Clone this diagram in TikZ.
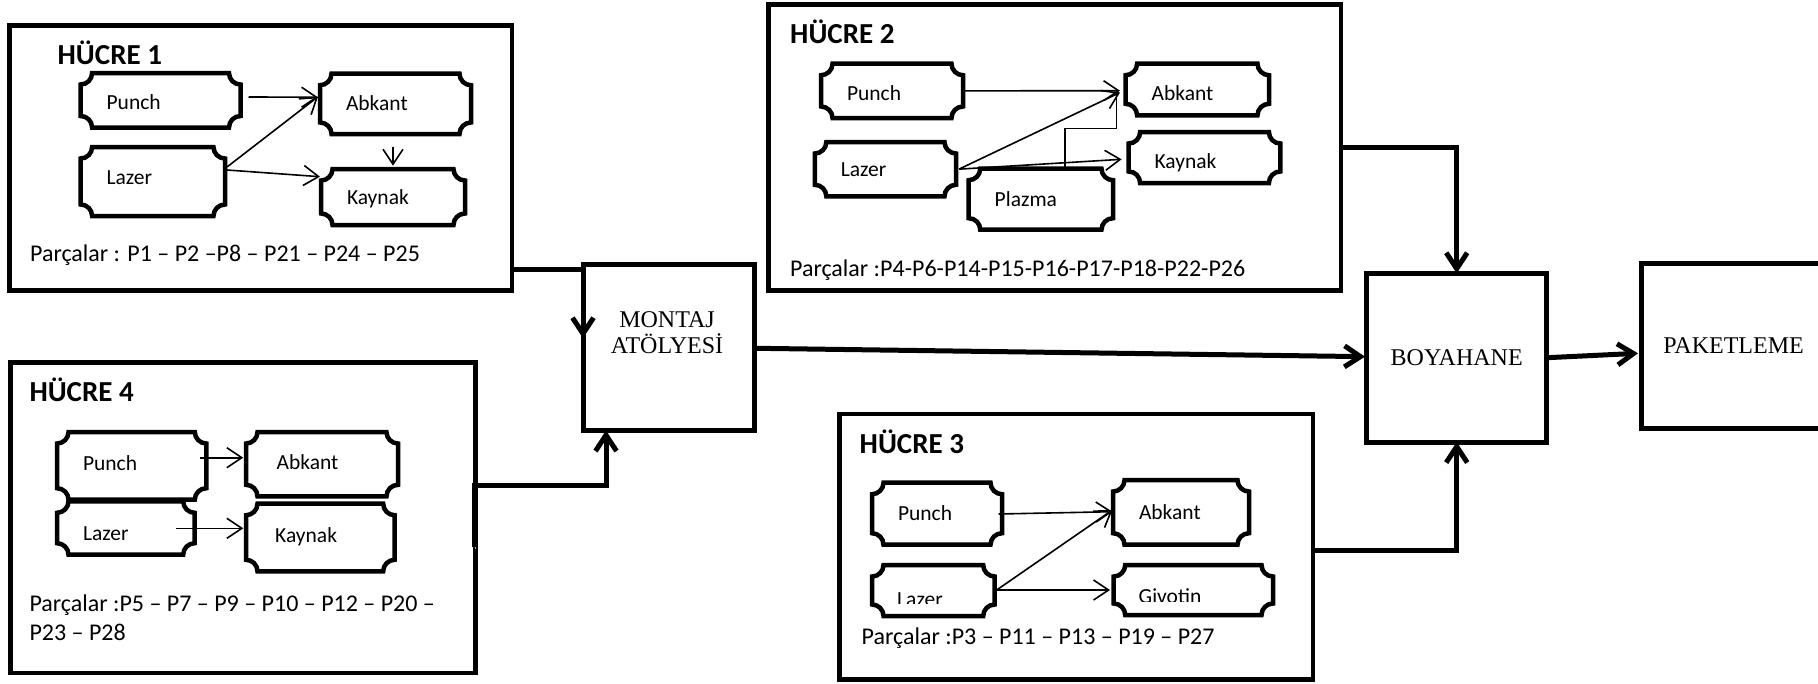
\documentclass[tikz,border=0pt]{standalone}
\usepackage{fontspec}
\setmainfont{Carlito}
\newfontfamily\serifstage{Liberation Serif}
\usetikzlibrary{arrows.meta,calc}

\newcommand\plqfont{\fontsize{21.5}{24}\selectfont}
\newcommand\partsfont{\fontsize{24}{29}\selectfont}
\newcommand\titlefont{\fontsize{29}{32}\selectfont\bfseries}
\newcommand\stagefont{\serifstage\fontsize{24}{26}\selectfont}

% radius of the concave corners of a plaque, and its Bezier handle
\def\plqr{11.5}
\def\plqk{6.35}

% outline of a plaque (rectangle with inward-rounded corners) around node #1
\newcommand\plqborder[1]{%
  \draw[plqline]
    ($(#1.north west)+(\plqr,0)$) -- ($(#1.north east)+(-\plqr,0)$)
    .. controls ($(#1.north east)+(-\plqr,\plqk)$) and ($(#1.north east)+(-\plqk,\plqr)$) .. ($(#1.north east)+(0,\plqr)$)
    -- ($(#1.south east)+(0,-\plqr)$)
    .. controls ($(#1.south east)+(-\plqk,-\plqr)$) and ($(#1.south east)+(-\plqr,-\plqk)$) .. ($(#1.south east)+(-\plqr,0)$)
    -- ($(#1.south west)+(\plqr,0)$)
    .. controls ($(#1.south west)+(\plqr,-\plqk)$) and ($(#1.south west)+(\plqk,-\plqr)$) .. ($(#1.south west)+(0,-\plqr)$)
    -- ($(#1.north west)+(0,\plqr)$)
    .. controls ($(#1.north west)+(\plqk,\plqr)$) and ($(#1.north west)+(\plqr,\plqk)$) .. ($(#1.north west)+(\plqr,0)$)
    -- cycle;}

% \plaque[options]{name}{x1}{y1}{x2}{y2}{text}: outer extent of a machine plaque
\newcommand\plaque[7][]{%
  \pgfmathsetmacro\plqw{#5-#3-4}%
  \pgfmathsetmacro\plqh{#6-#4-4}%
  \pgfmathsetmacro\plqtw{#5-#3-56}%
  \node[plq, minimum width=\plqw pt, minimum height=\plqh pt, text width=\plqtw pt, #1]
    (#2) at ({(#3+#5)/2},{(#4+#6)/2}) {#7};
  \plqborder{#2}}

% \boxnode{style}{name}{x1}{y1}{x2}{y2}{text}: rectangle given by its border lines
\newcommand\boxnode[7]{%
  \pgfmathsetmacro\bxw{#5-#3}%
  \pgfmathsetmacro\bxh{#6-#4}%
  \node[#1, minimum width=\bxw pt, minimum height=\bxh pt]
    (#2) at ({(#3+#5)/2},{(#4+#6)/2}) {#7};}

\begin{document}
\begin{tikzpicture}[x=1pt,y=-1pt,
  cellbox/.style={draw, line width=4.8pt, rectangle, outer sep=0pt, inner sep=0pt},
  stagebox/.style={draw, line width=5pt, rectangle, outer sep=0pt, inner sep=0pt, font=\stagefont},
  plq/.style={rectangle, outer sep=0pt, inner xsep=26pt, inner ysep=0pt,
    text height=14pt, text depth=0pt, align=left, font=\plqfont},
  plqtext/.style={anchor=base west, inner sep=0pt, font=\plqfont},
  plqline/.style={line width=4.5pt},
  celltitle/.style={anchor=base west, inner sep=0pt, font=\titlefont},
  parts/.style={anchor=base west, inner sep=0pt, font=\partsfont},
  link/.style={line width=1.6pt, -{Straight Barb[length=15pt,width=20pt]}},
  linkplain/.style={line width=1.6pt},
  flow/.style={line width=5pt, -{Straight Barb[length=16pt,width=21pt]},
    preaction={draw=gray!55, transform canvas={shift={(1pt,-1.8pt)}}}}
  ]
\useasboundingbox (0,0) rectangle (1818,683);

% ---------- manufacturing cells ----------
\boxnode{cellbox}{cell1}{9.3}{25.8}{512}{290.5}{}
\boxnode{cellbox}{cell2}{768.6}{4.2}{1341}{290.5}{}
\boxnode{cellbox}{cell4}{10.7}{362.5}{475.6}{673}{}
\boxnode{cellbox}{cell3}{839.6}{414}{1313}{679.5}{}

% ---------- downstream stages ----------
\boxnode{stagebox}{montaj}{583}{264}{754.7}{430.5}{}
\node[inner sep=0pt, anchor=base, align=center, text width=160pt, font=\stagefont]
  (montajtxt) at (667,327.3) {MONTAJ\\ATÖLYESİ};
\boxnode{stagebox}{boyahane}{1366.7}{273.3}{1546.7}{442}{BOYAHANE}
\boxnode{stagebox}{paket}{1641}{263.3}{1826}{428.3}{PAKETLEME}

% ---------- HÜCRE 1 ----------
\node[celltitle] (t1) at (57.5,64.5) {HÜCRE 1};
\plaque[text height=18.1pt]{p1punch}{78.6}{71}{242.5}{129.5}{Punch}
\plaque{p1abkant}{318}{71.7}{473}{136}{Abkant}
\plaque[text height=5pt]{p1lazer}{78.6}{145}{227}{218}{Lazer}
\plaque{p1kaynak}{319}{167}{467}{227}{Kaynak}
\node[parts] (parts1) at (29.9,261.7) {Parçalar : P1 – P2 –P8 – P21 – P24 – P25};
\draw[link] ([xshift=8,yshift=3.3]p1punch.east) -- ([xshift=-2,yshift=6.55]p1abkant.west);
\draw[link] ([xshift=2,yshift=14.5]p1lazer.east) -- ([xshift=-2,yshift=7.15]p1abkant.west);
\draw[link] ([xshift=2,yshift=11.5]p1lazer.east) -- ([xshift=-1,yshift=20.3]p1kaynak.west);
\draw[link] ([xshift=-2.5,yshift=-12.7]p1abkant.south) -- ([yshift=3.3]p1kaynak.north);

% ---------- HÜCRE 2 ----------
\node[celltitle] (t2) at (790,43.3) {HÜCRE 2};
\plaque[text height=18.3pt]{p2punch}{819}{61.7}{965}{120}{Punch}
\plaque[text height=21pt]{p2abkant}{1123.6}{61.7}{1271}{117.3}{Abkant}
\plaque{p2lazer}{812.8}{140}{958}{198.3}{Lazer}
\plaque[text height=21pt]{p2kaynak}{1126.6}{130}{1282.4}{185}{Kaynak}
\plaque{p2plazma}{966.7}{166.7}{1115}{231.7}{Plazma}
\node[parts] (parts2) at (789.9,276) {Parçalar :P4-P6-P14-P15-P16-P17-P18-P22-P26};
\draw[link] ([xshift=1.7]p2punch.east) -- ([xshift=-5.6,yshift=-1.2]p2abkant.west);
\draw[link] ([xshift=3]p2lazer.east) -- ([xshift=-5.6,yshift=-3]p2abkant.west);
\draw[link] ([xshift=3]p2lazer.east) -- ([xshift=-7,yshift=-1.8]p2kaynak.west);
\draw[linkplain] ([xshift=24.15]p2plazma.north) -- ++(0,-40.4) -| ([xshift=-9.1,yshift=-3.5]p2abkant.west);

% ---------- HÜCRE 4 ----------
\node[celltitle] (t4) at (29.3,401.7) {HÜCRE 4};
\plaque[text height=8.3pt]{p4punch}{55}{430}{208.3}{501.7}{Punch}
\plaque[text height=10.3pt]{p4abkant}{244}{430}{400}{498.3}{\hspace*{4.7pt}Abkant}
\plaque[text height=25.4pt]{p4lazer}{55}{499.3}{196.7}{556.7}{Lazer}
\plaque[text height=10.4pt]{p4kaynak}{244}{501.7}{396.7}{573.3}{\hspace*{3.2pt}Kaynak}
\node[parts] (parts4) at (29.3,611.7)
  {\vtop{\hbox{Parçalar :P5 – P7 – P9 – P10 – P12 – P20 –}\hbox{P23 – P28}}};
\draw[link] ([xshift=-6.3,yshift=8.15]p4punch.east) -- ([xshift=-2.7,yshift=6.45]p4abkant.west);
\draw[link] ([xshift=-18.7,yshift=-0.3]p4lazer.east) -- ([xshift=-2.7,yshift=9.2]p4kaynak.west);

% ---------- HÜCRE 3 ----------
\node[celltitle] (t3) at (859.5,453.3) {HÜCRE 3};
\plaque{p3punch}{870}{480.7}{1004}{546.7}{Punch}
\plaque{p3abkant}{1111}{478}{1251}{546.7}{Abkant}
\plaque{p3lazer}{870}{563}{996.7}{618}{}
\plaque{p3givotin}{1111.7}{563}{1275}{617}{}
% these two labels sit too low and are cut off by their plaque's text area
\begin{scope}
  \clip (p3lazer.north west) rectangle ([yshift=12.7]p3lazer.south east);
  \node[plqtext] (p3lazertxt) at ([xshift=25,yshift=-15.6]p3lazer.west) {Lazer};
\end{scope}
\begin{scope}
  \clip (p3givotin.north west) rectangle ([yshift=13.3]p3givotin.south east);
  \node[plqtext] (p3givotintxt) at ([xshift=24.8,yshift=-13.8]p3givotin.west) {Givotin};
\end{scope}
\node[parts] (parts3) at (861.5,644.3) {Parçalar :P3 – P11 – P13 – P19 – P27};
\draw[link] ([xshift=-3.4,yshift=-0.3]p3punch.east) -- ([xshift=-0.6,yshift=0.65]p3abkant.west);
\draw[link] ([xshift=2,yshift=0.5]p3lazer.east) -- ([xshift=-0.6,yshift=2.35]p3abkant.west);
\draw[link] ([xshift=2,yshift=0.5]p3lazer.east) -- ([xshift=-3.7]p3givotin.west);

% ---------- material flow ----------
\draw[flow] ([yshift=21.2]cell1.south east) -| ([yshift=-74.3]montaj.north west);
\draw[flow] ([xshift=-1.6,yshift=-29.25]cell4.east) -- ([xshift=-1.6,yshift=32.75]cell4.east)
  -| ([xshift=-62.85]montaj.south);
\draw[flow] ([xshift=2,yshift=-1.05]montaj.east) -- ([xshift=-1.7,yshift=1]boyahane.west);
\draw[flow] (cell2.east) -| (boyahane.north);
\draw[flow] ([yshift=-3.95]cell3.east) -| (boyahane.south);
\draw[flow] ([xshift=1.3]boyahane.east) -- ([xshift=-3,yshift=-7.5]paket.west);
\end{tikzpicture}
\end{document}
